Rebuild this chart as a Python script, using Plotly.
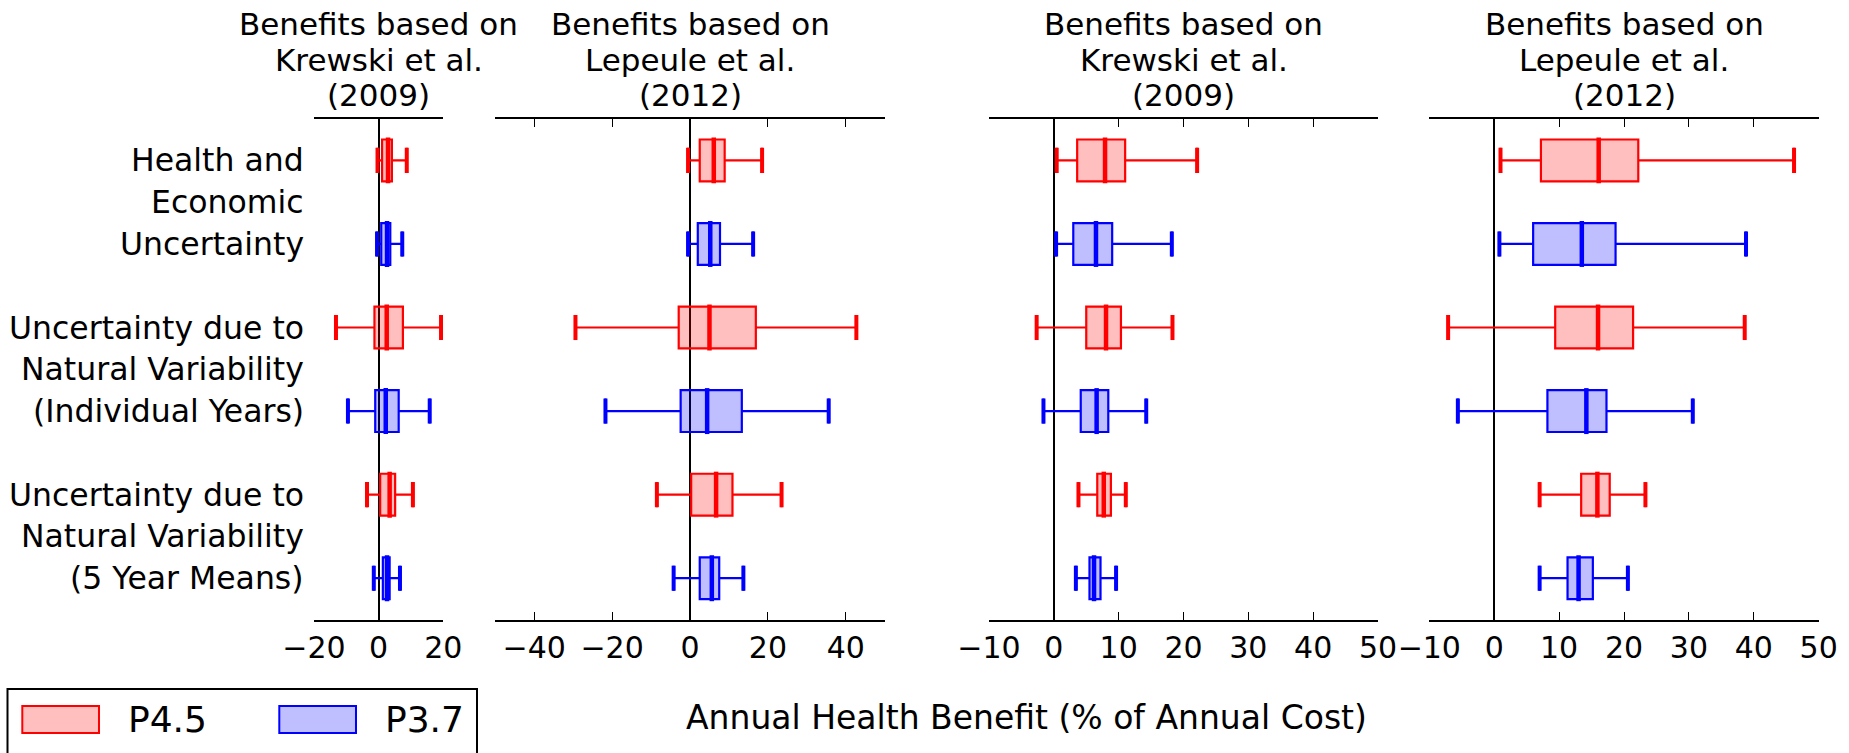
import plotly.graph_objects as go

FONT = "DejaVu Sans"
W, H = 1849, 753

# ---- text ---------------------------------------------------------------
row_labels = [
    ["Health and", "Economic", "Uncertainty"],
    ["Uncertainty due to", "Natural Variability", "(Individual Years)"],
    ["Uncertainty due to", "Natural Variability", "(5 Year Means)"],
]
panel_titles = [
    ["Benefits based on", "Krewski et al.", "(2009)"],
    ["Benefits based on", "Lepeule et al.", "(2012)"],
    ["Benefits based on", "Krewski et al.", "(2009)"],
    ["Benefits based on", "Lepeule et al.", "(2012)"],
]
series_names = ["P4.5", "P3.7"]
x_label = "Annual Health Benefit (% of Annual Cost)"

# ---- box statistics: [lower whisker, Q1, median, Q3, upper whisker] -----
# rows: health & economic, natural variability (years), natural variability (5-yr means)
panel1_p45 = [[-0.35, 1.06, 2.9, 4.1, 8.7],
              [-13.2, -1.3, 2.5, 7.5, 19.3],
              [-3.6, 0.47, 3.4, 5.1, 10.6]]
panel1_p37 = [[-0.5, 0.8, 2.6, 3.6, 7.3],
              [-9.5, -1.06, 2.2, 6.2, 15.8],
              [-1.5, 1.3, 2.6, 3.4, 6.6]]

panel2_p45 = [[-0.5, 2.5, 6.1, 8.9, 18.5],
              [-29.4, -2.9, 5.0, 16.9, 42.7],
              [-8.5, 0.3, 6.7, 10.9, 23.5]]
panel2_p37 = [[-0.5, 2.0, 5.2, 7.7, 16.2],
              [-21.7, -2.4, 4.4, 13.3, 35.6],
              [-4.2, 2.5, 5.6, 7.5, 13.7]]

panel3_p45 = [[0.44, 3.6, 7.9, 11.0, 22.1],
              [-2.65, 5.0, 8.05, 10.35, 18.3],
              [3.8, 6.7, 7.7, 8.8, 11.1]]
panel3_p37 = [[0.35, 3.0, 6.5, 9.0, 18.2],
              [-1.6, 4.15, 6.6, 8.4, 14.25],
              [3.4, 5.5, 6.2, 7.2, 9.6]]

panel4_p45 = [[0.97, 7.2, 16.1, 22.2, 46.2],
              [-7.1, 9.4, 16.0, 21.4, 38.6],
              [7.0, 13.4, 15.9, 17.8, 23.3]]
panel4_p37 = [[0.8, 6.0, 13.5, 18.7, 38.8],
              [-5.6, 8.2, 14.2, 17.3, 30.6],
              [7.0, 11.3, 13.0, 15.2, 20.6]]

panel_ranges = [(-20, 20), (-50, 50), (-10, 50), (-10, 50)]
panel_ticks = [[-20, 0, 20],
               [-40, -20, 0, 20, 40],
               [-10, 0, 10, 20, 30, 40, 50],
               [-10, 0, 10, 20, 30, 40, 50]]

panels = [(panel1_p45, panel1_p37), (panel2_p45, panel2_p37),
          (panel3_p45, panel3_p37), (panel4_p45, panel4_p37)]

# ---- styling ------------------------------------------------------------
edge_colors = ["#ff0000", "#0000ff"]
fill_colors = ["rgba(255,0,0,0.25)", "rgba(0,0,255,0.25)"]
BOX_W = 0.5
CAP_W = 0.3
MED_W = 0.55

TICK_SIZE = 30
TITLE_SIZE = 31
ROW_SIZE = 31.5
XLABEL_SIZE = 33
LEGEND_SIZE = 36

# panel placement in pixels
x_px = [(314, 443.3), (495.2, 884.8), (989, 1378), (1429.3, 1818.7)]
y_top_px, y_bot_px = 118.6, 620.0


def px_x(v):
    return v / W


def px_y(v):
    return 1 - v / H


def fmt(v):
    return ("\u2212" + str(abs(v))) if v < 0 else str(v)


fig = go.Figure()
layout_axes = {}

for i, series_pair in enumerate(panels):
    n = i + 1
    xa = "x" if n == 1 else f"x{n}"
    ya = "y" if n == 1 else f"y{n}"
    for s, stats in enumerate(series_pair):
        pos = [1 + s + 2 * k for k in range(len(stats))]
        lo = [r[0] for r in stats]
        q1 = [r[1] for r in stats]
        med = [r[2] for r in stats]
        q3 = [r[3] for r in stats]
        hi = [r[4] for r in stats]
        fig.add_trace(go.Box(
            y=pos, lowerfence=lo, q1=q1, median=med, q3=q3, upperfence=hi,
            orientation="h", width=BOX_W, whiskerwidth=CAP_W / BOX_W,
            boxpoints=False, line=dict(color=edge_colors[s], width=2.2),
            fillcolor=fill_colors[s], xaxis=xa, yaxis=ya,
            showlegend=False, hoverinfo="skip", name=series_names[s],
        ))
        # heavier median bars
        mx, my = [], []
        for p, m in zip(pos, med):
            mx += [m, m, None]
            my += [p - MED_W / 2, p + MED_W / 2, None]
        fig.add_trace(go.Scatter(x=mx, y=my, mode="lines",
                                 line=dict(color=edge_colors[s], width=4.5),
                                 xaxis=xa, yaxis=ya, showlegend=False,
                                 hoverinfo="skip"))
        # heavier whisker caps
        cx, cy = [], []
        for p, a, b in zip(pos, lo, hi):
            for v in (a, b):
                cx += [v, v, None]
                cy += [p - CAP_W / 2, p + CAP_W / 2, None]
        fig.add_trace(go.Scatter(x=cx, y=cy, mode="lines",
                                 line=dict(color=edge_colors[s], width=4),
                                 xaxis=xa, yaxis=ya, showlegend=False,
                                 hoverinfo="skip"))

    xkey = "xaxis" if n == 1 else f"xaxis{n}"
    ykey = "yaxis" if n == 1 else f"yaxis{n}"
    layout_axes[xkey] = dict(
        domain=[px_x(x_px[i][0]), px_x(x_px[i][1])], anchor=ya,
        range=list(panel_ranges[i]), tickmode="array",
        tickvals=panel_ticks[i], ticktext=[fmt(v) for v in panel_ticks[i]],
        showline=True, linecolor="black", linewidth=2.2, mirror="ticks",
        ticks="inside", ticklen=8, tickwidth=1.2, tickcolor="black",
        showgrid=False, zeroline=True, zerolinecolor="black",
        zerolinewidth=2,
        tickfont=dict(family=FONT, size=TICK_SIZE, color="black"),
        fixedrange=True, automargin=False,
    )
    layout_axes[ykey] = dict(
        domain=[px_y(y_bot_px), px_y(y_top_px)], anchor=xa,
        range=[6.5, 0.5], showline=False, showgrid=False, zeroline=False,
        showticklabels=False, ticks="", fixedrange=True, automargin=False,
    )

annotations = []
# panel titles, one line at a time
title_y_px = [24.5, 59.5, 94.5]
for i, lines in enumerate(panel_titles):
    cx = (x_px[i][0] + x_px[i][1]) / 2
    for line, ypx in zip(lines, title_y_px):
        annotations.append(dict(
            text=line, x=px_x(cx), y=px_y(ypx), xref="paper", yref="paper",
            xanchor="center", yanchor="middle", showarrow=False,
            font=dict(family=FONT, size=TITLE_SIZE, color="black")))

# row group labels, one line per half-row step
for g, lines in enumerate(row_labels):
    for k, line in enumerate(lines):
        annotations.append(dict(
            text=line, x=px_x(306), y=1 + 2 * g + 0.5 * k, xref="paper",
            yref="y", xanchor="right", yanchor="middle", showarrow=False,
            font=dict(family=FONT, size=ROW_SIZE, color="black")))

# shared x label
annotations.append(dict(
    text=x_label, x=px_x(1026), y=px_y(717), xref="paper", yref="paper",
    xanchor="center", yanchor="middle", showarrow=False,
    font=dict(family=FONT, size=XLABEL_SIZE, color="black")))

# legend, drawn as patches with labels
shapes = [dict(type="rect", xref="paper", yref="paper",
               x0=px_x(7.5), x1=px_x(477), y0=px_y(689), y1=px_y(800),
               line=dict(color="black", width=2), fillcolor="rgba(0,0,0,0)")]
legend_patch_x = [(22.3, 99), (279.3, 356)]
legend_text_x = [126, 382.5]
for s in range(2):
    shapes.append(dict(type="rect", xref="paper", yref="paper",
                       x0=px_x(legend_patch_x[s][0]), x1=px_x(legend_patch_x[s][1]),
                       y0=px_y(733), y1=px_y(706),
                       line=dict(color=edge_colors[s], width=2),
                       fillcolor=fill_colors[s]))
    annotations.append(dict(
        text=series_names[s], x=px_x(legend_text_x[s]), y=px_y(719.5),
        xref="paper", yref="paper", xanchor="left", yanchor="middle",
        showarrow=False, font=dict(family=FONT, size=LEGEND_SIZE, color="black")))

fig.update_layout(
    width=W, height=H, autosize=False,
    margin=dict(l=0, r=0, t=0, b=0, pad=0),
    paper_bgcolor="white", plot_bgcolor="white",
    boxmode="overlay", showlegend=False,
    annotations=annotations, shapes=shapes,
    font=dict(family=FONT, size=TICK_SIZE, color="black"),
    **layout_axes,
)

fig.write_html("out.html", config={"displayModeBar": False})
